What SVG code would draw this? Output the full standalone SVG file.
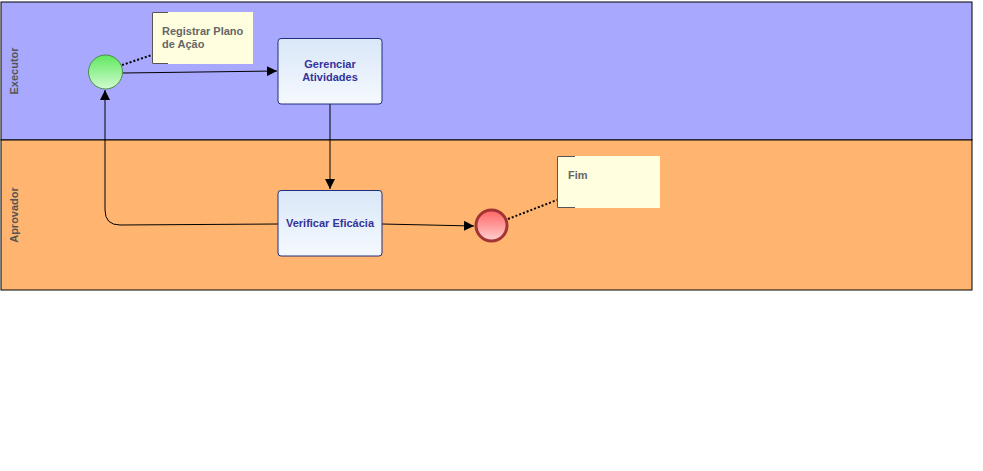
<svg xmlns="http://www.w3.org/2000/svg" width="983" height="471" viewBox="0 0 983 471">
<defs>
<linearGradient id="gTask" x1="0" y1="0" x2="0" y2="1"><stop offset="0" stop-color="#d9e7f8"/><stop offset="1" stop-color="#f5f9fe"/></linearGradient>
<linearGradient id="gStart" x1="0" y1="0" x2="0" y2="1"><stop offset="0" stop-color="#5ee85e"/><stop offset="1" stop-color="#d2fbd2"/></linearGradient>
<linearGradient id="gEnd" x1="0" y1="0" x2="0" y2="1"><stop offset="0" stop-color="#ff6464"/><stop offset="1" stop-color="#ffd0d0"/></linearGradient>
<marker id="arr" viewBox="0 0 10 10" refX="10" refY="5" markerWidth="10" markerHeight="10" markerUnits="userSpaceOnUse" orient="auto"><path d="M0,0 L10,5 L0,10 Z" fill="#000"/></marker>
</defs>
<style>
.lbl{font-family:"Liberation Sans",Arial,sans-serif;font-size:11px;font-weight:bold;fill:#555}
.task{fill:url(#gTask);stroke:#1f2f80;stroke-width:1}
.ttxt{font-family:"Liberation Sans",Arial,sans-serif;font-size:11px;font-weight:bold;fill:#33339a;text-anchor:middle}
.note{fill:#ffffe0}
.brk{fill:none;stroke:#555;stroke-width:1}
.ntxt{font-family:"Liberation Sans",Arial,sans-serif;font-size:11px;font-weight:bold;fill:#666}
.flow{fill:none;stroke:#000;stroke-width:1}
.assoc{fill:none;stroke:#000;stroke-width:2;stroke-dasharray:2,2}
</style>
<rect x="0" y="0" width="983" height="471" fill="#fff"/>
<g id="pool">
<g id="lane-executor">
<rect x="1" y="2" width="971" height="138" fill="#a8a8fe" stroke="#000" stroke-width="1"/>
<text class="lbl" transform="translate(18,71) rotate(-90)" text-anchor="middle">Executor</text>
</g>
<g id="lane-aprovador">
<rect x="1" y="140" width="971" height="150" fill="#ffb570" stroke="#000" stroke-width="1"/>
<text class="lbl" transform="translate(18,215) rotate(-90)" text-anchor="middle">Aprovador</text>
</g>
</g>
<g id="connectors">
<path class="flow" d="M123,73 L277,71" marker-end="url(#arr)"/>
<path class="flow" d="M330,104 L330,189" marker-end="url(#arr)"/>
<path class="flow" d="M278,224 L120,225 Q105,225 105,210 L105,90" marker-end="url(#arr)"/>
<path class="flow" d="M382,224 L474,226" marker-end="url(#arr)"/>
<path class="assoc" d="M122,65 L152,55"/>
<path class="assoc" d="M508,219 L557,200"/>
</g>
<g id="start">
<circle cx="105.5" cy="72" r="17" fill="url(#gStart)" stroke="#4c8c4c" stroke-width="1"/>
</g>
<g id="note-registrar">
<rect class="note" x="152" y="12" width="101" height="52"/>
<path class="brk" d="M168,12.5 L152.5,12.5 L152.5,63.5 L168,63.5"/>
<text class="ntxt" x="162" y="35">Registrar Plano</text>
<text class="ntxt" x="162" y="48">de Ação</text>
</g>
<g id="task-gerenciar">
<rect class="task" x="278" y="38.5" width="104" height="65.5" rx="3"/>
<text class="ttxt" x="330" y="68">Gerenciar</text>
<text class="ttxt" x="330" y="81">Atividades</text>
</g>
<g id="task-verificar">
<rect class="task" x="278" y="190.5" width="104" height="65.5" rx="3"/>
<text class="ttxt" x="330" y="227">Verificar Eficácia</text>
</g>
<g id="end">
<circle cx="491.5" cy="225.5" r="15.5" fill="url(#gEnd)" stroke="#a33434" stroke-width="3"/>
</g>
<g id="note-fim">
<rect class="note" x="557" y="156" width="103" height="52"/>
<path class="brk" d="M575,156.5 L557.5,156.5 L557.5,207.5 L575,207.5"/>
<text class="ntxt" x="568" y="179">Fim</text>
</g>
</svg>
